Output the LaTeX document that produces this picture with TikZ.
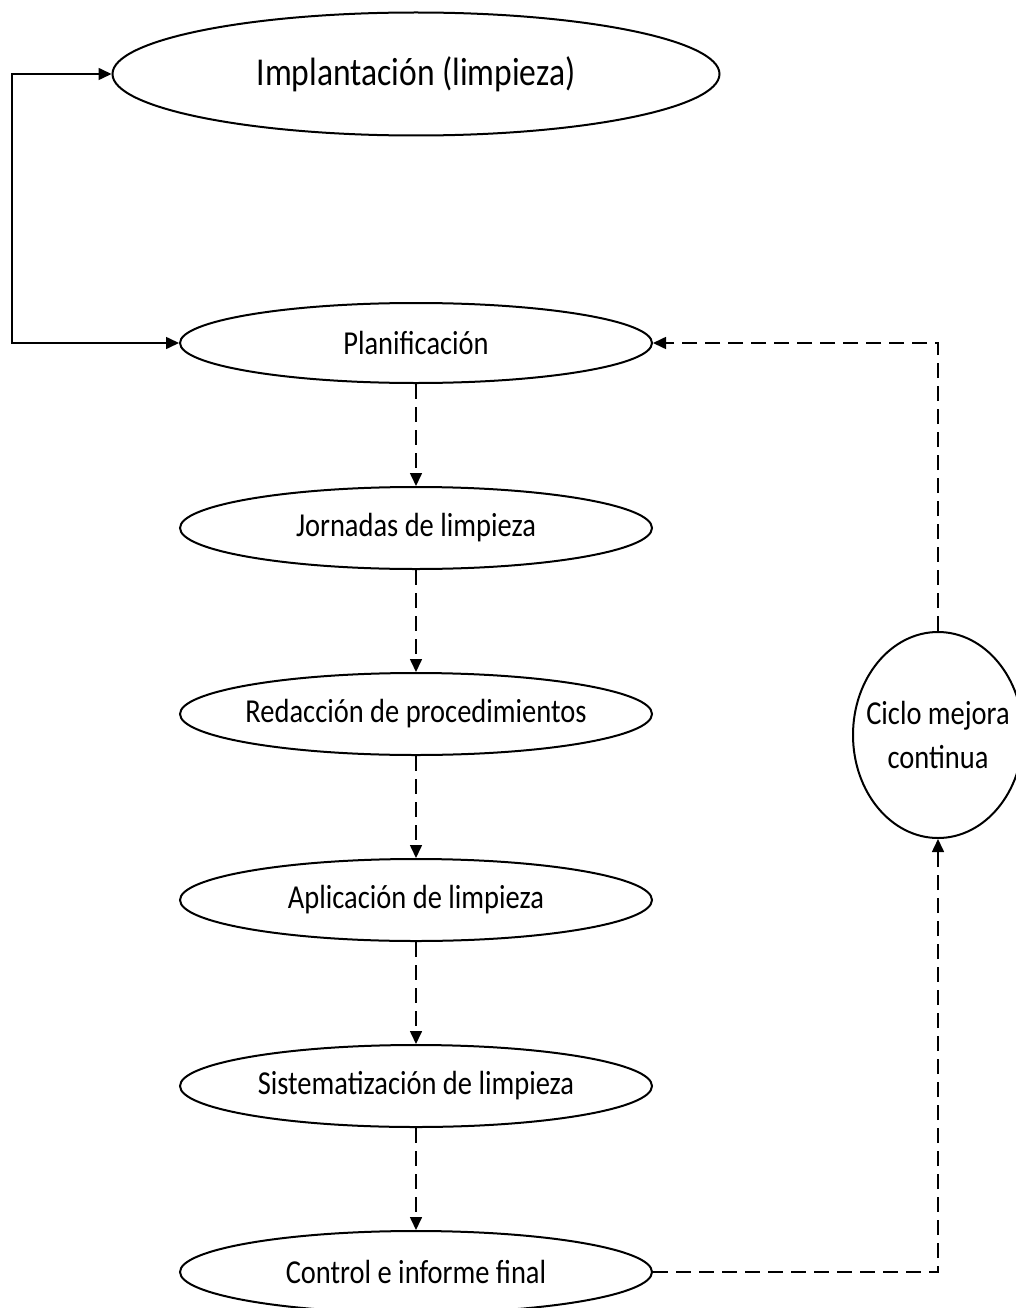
\documentclass[tikz,border=0pt]{standalone}
\usepackage{fontspec}
\setmainfont[FakeStretch=0.85]{Carlito}
\usetikzlibrary{shapes.geometric,arrows.meta}
\begin{document}
\begin{tikzpicture}[x=1pt,y=-1pt,
  oval/.style={draw=black,line width=2pt,ellipse,inner ysep=0pt,inner xsep=-120pt,fill=white,
    font=\fontsize{33.5}{40}\selectfont},
  flowbox/.style={oval,minimum width=472pt,minimum height=82pt},
  solidarrow/.style={line width=1.6pt,-{Triangle[length=13pt,width=12pt]}},
  dasharrow/.style={line width=1.6pt,dash pattern=on 15pt off 8pt,-{Triangle[length=13pt,width=12pt]}},
  dashline/.style={line width=1.6pt,dash pattern=on 15pt off 8pt}]
\useasboundingbox (0,0) rectangle (1016,1308);
\fill[white] (0,0) rectangle (1016,1308);

\node[oval,minimum width=607pt,minimum height=123pt,font=\fontsize{39.5}{46}\selectfont] (impl) at (416,74) {Implantación (limpieza)};
\node[flowbox,minimum height=80pt] (plan) at (416,343) {Planificación};
\node[flowbox] (jorn) at (416,528) {Jornadas de limpieza};
\node[flowbox] (reda) at (416,714) {Redacción de procedimientos};
\node[flowbox] (apli) at (416,900) {Aplicación de limpieza};
\node[flowbox] (sist) at (416,1086) {Sistematización de limpieza};
\node[flowbox] (ctrl) at (416,1272) {Control e informe final};
\node[oval,inner xsep=-40pt,minimum width=170pt,minimum height=206pt,align=center,
  font=\fontsize{33.5}{44}\selectfont] (ciclo) at (938,735) {Ciclo mejora\\continua};

\coordinate (lx) at (12,0);
\coordinate (rx) at (938,0);

\draw[line width=1.6pt,{Triangle[length=13pt,width=12pt]}-{Triangle[length=13pt,width=12pt]}]
  (impl.west) -- (impl.west -| lx) -- (plan.west -| lx) -- (plan.west);

\draw[dasharrow] (plan.south) -- (jorn.north);
\draw[dasharrow] (jorn.south) -- (reda.north);
\draw[dasharrow] (reda.south) -- (apli.north);
\draw[dasharrow] (apli.south) -- (sist.north);
\draw[dasharrow] (sist.south) -- (ctrl.north);

\draw[dasharrow] (ctrl.east) -- (ctrl.east -| rx) -- (ciclo.south);
\draw[dasharrow] (ciclo.north) -- (plan.east -| rx) -- (plan.east);
\end{tikzpicture}
\end{document}
